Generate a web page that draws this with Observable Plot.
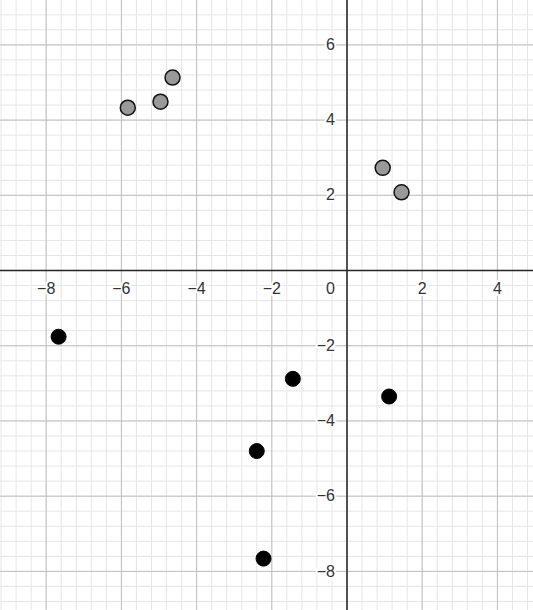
<!DOCTYPE html>
<html>
<head>
<meta charset="utf-8">
<script src="https://cdn.jsdelivr.net/npm/d3@7"></script>
<script src="https://cdn.jsdelivr.net/npm/@observablehq/plot@0.6"></script>
<style>
  html, body { margin: 0; padding: 0; background: #fff; }
  #chart svg { display: block; }
</style>
</head>
<body>
<div id="chart"></div>
<script>
// Gray points
const grayX = [-5.83, -4.96, -4.64, 0.95, 1.45];
const grayY = [4.33, 4.49, 5.13, 2.73, 2.08];
// Black points
const blackX = [-7.67, -1.44, 1.12, -2.40, -2.22];
const blackY = [-1.76, -2.88, -3.35, -4.80, -7.66];
// Tick labels
const xTicks = [-8, -6, -4, -2, 2, 4];
const yTicks = [-8, -6, -4, -2, 2, 4, 6];
const xDomain = [-9.215, 4.96];
const yDomain = [-9.04, 7.18];
const minorStep = 0.4;
const majorStep = 2;

const gray = grayX.map((x, i) => ({x, y: grayY[i]}));
const black = blackX.map((x, i) => ({x, y: blackY[i]}));

const minorX = d3.range(Math.ceil(xDomain[0] / minorStep) * minorStep, xDomain[1], minorStep);
const minorY = d3.range(Math.ceil(yDomain[0] / minorStep) * minorStep, yDomain[1], minorStep);
const majorX = d3.range(Math.ceil(xDomain[0] / majorStep) * majorStep, xDomain[1], majorStep);
const majorY = d3.range(Math.ceil(yDomain[0] / majorStep) * majorStep, yDomain[1], majorStep);
const fmt = d => (d < 0 ? "\u2212" + Math.abs(d) : String(d));

const chart = Plot.plot({
  width: 533,
  height: 610,
  margin: 0,
  x: {domain: xDomain, axis: null},
  y: {domain: yDomain, axis: null},
  style: {fontFamily: "'Liberation Sans', Arial, sans-serif", background: "#fff"},
  marks: [
    Plot.ruleX(minorX, {stroke: "#e6e6e6", strokeWidth: 1}),
    Plot.ruleY(minorY, {stroke: "#e6e6e6", strokeWidth: 1}),
    Plot.ruleX(majorX, {stroke: "#c0c0c0", strokeWidth: 1}),
    Plot.ruleY(majorY, {stroke: "#c0c0c0", strokeWidth: 1}),
    Plot.ruleX([0], {stroke: "#252525", strokeWidth: 1.5}),
    Plot.ruleY([0], {stroke: "#252525", strokeWidth: 1.5}),
    Plot.text(xTicks, {x: d => d, y: 0, dy: 18, text: fmt, fontSize: 16, fill: "#333",
      stroke: "white", strokeWidth: 4, paintOrder: "stroke"}),
    Plot.text(yTicks, {x: 0, y: d => d, dx: -12, textAnchor: "end", text: fmt, fontSize: 16, fill: "#333",
      stroke: "white", strokeWidth: 4, paintOrder: "stroke"}),
    Plot.text([0], {x: 0, y: 0, dx: -12, dy: 18, textAnchor: "end", text: () => "0", fontSize: 16, fill: "#333",
      stroke: "white", strokeWidth: 4, paintOrder: "stroke"}),
    Plot.dot(gray, {x: "x", y: "y", r: 7.5, fill: "#999999", stroke: "#111", strokeWidth: 1.5}),
    Plot.dot(black, {x: "x", y: "y", r: 7.5, fill: "#000", stroke: "#000", strokeWidth: 1})
  ]
});
document.getElementById("chart").appendChild(chart);
</script>
</body>
</html>
